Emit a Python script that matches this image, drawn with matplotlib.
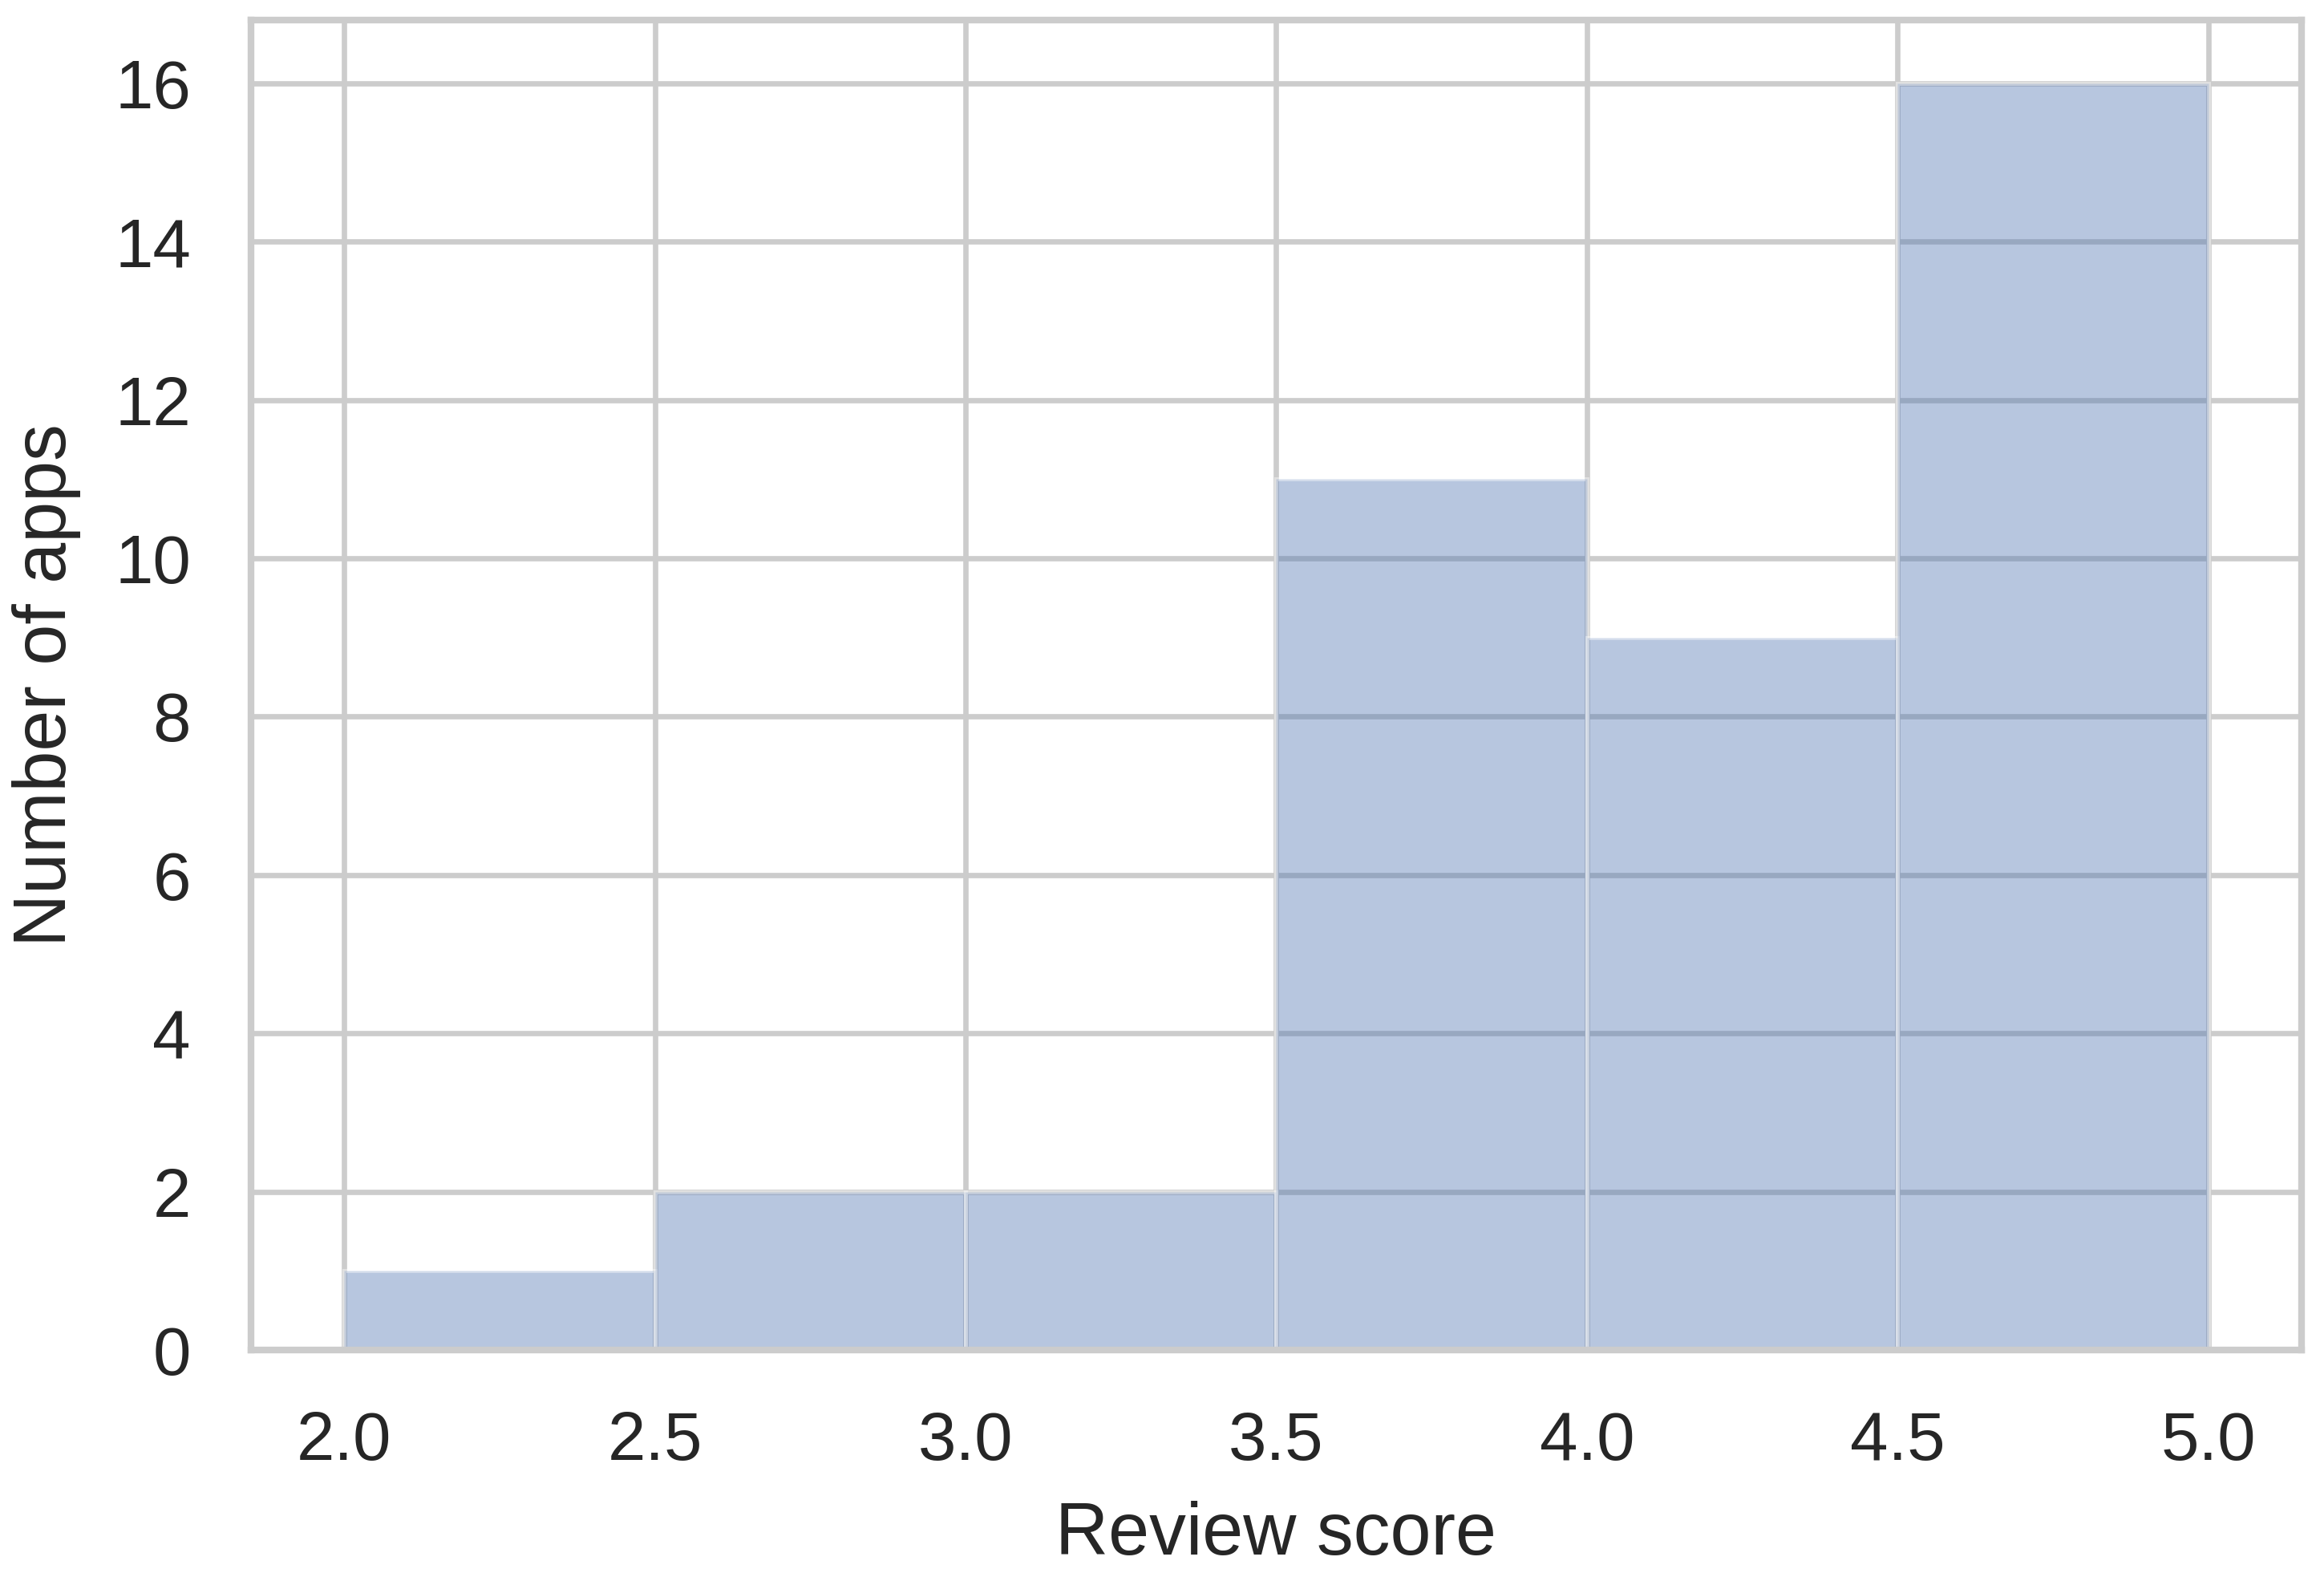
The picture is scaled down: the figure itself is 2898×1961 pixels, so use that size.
import numpy as np
import matplotlib
matplotlib.use('Agg')
import matplotlib.pyplot as plt
import seaborn as sns

# review score bins and app counts
bin_edges = [2.0, 2.5, 3.0, 3.5, 4.0, 4.5, 5.0]
counts = [1, 2, 2, 11, 9, 16]
x_ticks = [2.0, 2.5, 3.0, 3.5, 4.0, 4.5, 5.0]
y_ticks = [0, 2, 4, 6, 8, 10, 12, 14, 16]

sns.set_style('whitegrid')
plt.rcParams['font.family'] = ['Liberation Sans', 'DejaVu Sans']

fig = plt.figure(figsize=(9.66, 6.537), dpi=300)
ax = fig.add_axes([0.108, 0.1418, 0.8823, 0.8455])

ax.hist(bin_edges[:-1], bins=bin_edges, weights=counts,
        color='#4c72b0', alpha=0.4, edgecolor='white', linewidth=1.2)

ax.set_xlim(1.85, 5.15)
ax.set_ylim(0, 16.8)
ax.set_xticks(x_ticks)
ax.set_yticks(y_ticks)
ax.set_xticklabels([f'{t:.1f}' for t in x_ticks])

ax.grid(True, color='#cccccc', lw=1.6)
ax.set_axisbelow(True)
for s in ax.spines.values():
    s.set_color('#cccccc')
    s.set_linewidth(2.0)

ax.tick_params(axis='both', length=0, labelsize=20.5, colors='#262626', pad=18)
ax.set_xlabel('Review score', fontsize=22, color='#262626', labelpad=8)
ax.set_ylabel('Number of apps', fontsize=22, color='#262626', labelpad=10)

fig.savefig('out.png', dpi=300)
